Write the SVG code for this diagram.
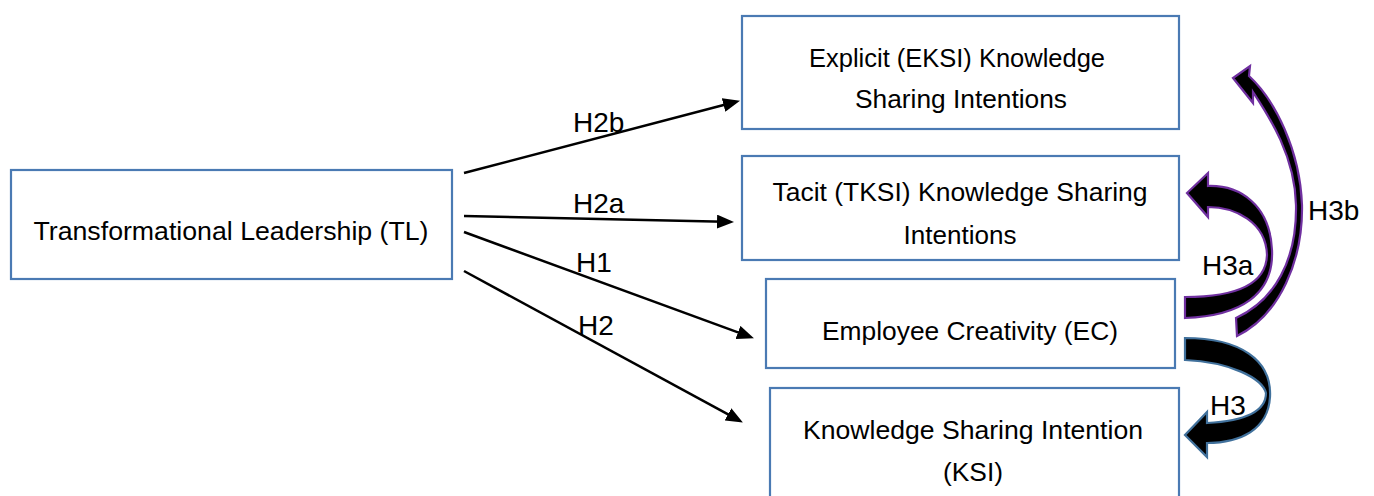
<svg xmlns="http://www.w3.org/2000/svg" width="1374" height="496" viewBox="0 0 1374 496">
  <defs>
    <marker id="arrowhead" markerUnits="userSpaceOnUse" markerWidth="17" markerHeight="14" refX="8" refY="7" orient="auto">
      <path d="M0,0 L17,7 L0,14 Z" fill="#000"/>
    </marker>
  </defs>
  <style>
    .box { fill: #fff; stroke: #4a7ab3; stroke-width: 2.2; }
    .txt { font-family: "Liberation Sans", Arial, sans-serif; font-size: 25.5px; fill: #000; text-anchor: middle; }
    .lbl { font-family: "Liberation Sans", Arial, sans-serif; font-size: 28px; fill: #000; }
    .link { stroke: #000; stroke-width: 2.5; fill: none; marker-end: url(#arrowhead); }
    .curve-purple { fill: #000; stroke: #7030a0; stroke-width: 2.2; stroke-linejoin: miter; }
    .curve-blue { fill: #000; stroke: #41719c; stroke-width: 2.2; stroke-linejoin: miter; }
  </style>

  <!-- Nodes -->
  <g id="node-tl">
    <rect class="box" x="11" y="170" width="441" height="109"/>
    <text class="txt" x="231" y="240" textLength="395" lengthAdjust="spacingAndGlyphs">Transformational Leadership (TL)</text>
  </g>
  <g id="node-eksi">
    <rect class="box" x="742" y="16" width="437" height="113"/>
    <text class="txt" x="957" y="67" textLength="296" lengthAdjust="spacingAndGlyphs">Explicit (EKSI) Knowledge</text>
    <text class="txt" x="961" y="108" textLength="212" lengthAdjust="spacingAndGlyphs">Sharing Intentions</text>
  </g>
  <g id="node-tksi">
    <rect class="box" x="742" y="156" width="437" height="104"/>
    <text class="txt" x="960" y="201" textLength="375" lengthAdjust="spacingAndGlyphs">Tacit (TKSI) Knowledge Sharing</text>
    <text class="txt" x="960" y="244" textLength="113" lengthAdjust="spacingAndGlyphs">Intentions</text>
  </g>
  <g id="node-ec">
    <rect class="box" x="766" y="279" width="409" height="89"/>
    <text class="txt" x="970" y="340" textLength="296" lengthAdjust="spacingAndGlyphs">Employee Creativity (EC)</text>
  </g>
  <g id="node-ksi">
    <rect class="box" x="770" y="388" width="409" height="112"/>
    <text class="txt" x="973" y="439" textLength="340" lengthAdjust="spacingAndGlyphs">Knowledge Sharing Intention</text>
    <text class="txt" x="973" y="481" textLength="60" lengthAdjust="spacingAndGlyphs">(KSI)</text>
  </g>

  <!-- Connectors -->
  <g id="connectors">
    <line class="link" x1="464" y1="173" x2="731.3" y2="103"/>
    <line class="link" x1="464" y1="216" x2="725" y2="221.8"/>
    <line class="link" x1="464" y1="232" x2="745.5" y2="335.2"/>
    <line class="link" x1="464" y1="271" x2="735" y2="418.2"/>

    <!-- curved block arrows on the right -->
    <path class="curve-purple" d="M1249,76 C1275,100 1300,150 1302,205 C1303,260 1280,315 1237,336 L1236,318 C1275,300 1297,260 1296,205 C1295,155 1268,115 1253,92 L1253,103 L1233,78 L1250,66 Z"/>
    <path class="curve-purple" d="M1185,318 C1240,316 1274,295 1272,250 C1270,205 1240,185 1208,186 L1208,173 L1187,193 L1208,217 L1208,207 C1235,207 1266,222 1267,255 C1266,285 1235,297 1185,297 Z"/>
    <path class="curve-blue" d="M1185,338 C1240,338 1272,360 1270,397 C1268,430 1240,443 1207,443 L1207,457 L1185,435 L1207,412 L1207,423 C1245,421 1266,412 1266,393 C1262,378 1230,362 1185,360 Z"/>

    <text class="lbl" x="573" y="132">H2b</text>
    <text class="lbl" x="573" y="213">H2a</text>
    <text class="lbl" x="576" y="272">H1</text>
    <text class="lbl" x="578" y="335">H2</text>
    <text class="lbl" x="1202" y="275">H3a</text>
    <text class="lbl" x="1308" y="220">H3b</text>
    <text class="lbl" x="1210" y="415">H3</text>
  </g>
</svg>
